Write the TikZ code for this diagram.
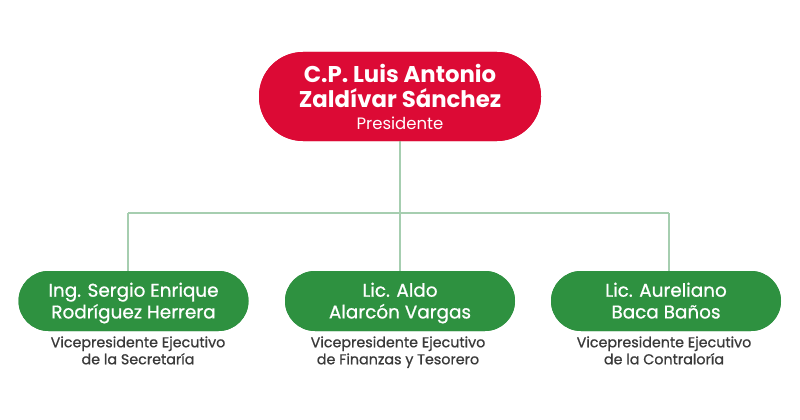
\documentclass[tikz,border=0pt]{standalone}
\usepackage{fontspec}
\setmainfont{Poppins}
\newfontfamily\medfont[FakeBold=0.8]{Poppins}
\definecolor{topred}{HTML}{DC0A35}
\definecolor{vpgreen}{HTML}{2E9140}
\definecolor{linkgreen}{HTML}{A6CEB0}
\definecolor{captiongray}{HTML}{3A3A3A}
\begin{document}
\begin{tikzpicture}[x=1pt,y=-1pt,
  topbox/.style={fill=topred,draw=none,rounded corners=44pt,minimum width=282pt,minimum height=89pt,inner sep=0pt},
  vpbox/.style={fill=vpgreen,draw=none,rounded corners=30pt,minimum width=230pt,minimum height=60pt,inner sep=0pt},
  link/.style={draw=linkgreen,line width=2.6pt},
  topname/.style={anchor=base,text=white,font=\fontsize{22.8}{26}\selectfont\bfseries,align=center,inner sep=0pt},
  toprole/.style={anchor=base,text=white,font=\fontsize{16.5}{20}\selectfont,inner sep=0pt},
  vpname/.style={anchor=base,text=white,font=\fontsize{18.4}{21.7}\medfont,align=center,inner sep=0pt},
  vprole/.style={anchor=base,text=captiongray,font=\fontsize{14.3}{17}\medfont,align=center,inner sep=0pt}
]
\useasboundingbox (0,0) rectangle (800,420);
\fill[white] (0,0) rectangle (800,420);
% connectors
\coordinate (busL) at (128,213);
\coordinate (busM) at (400,213);
\coordinate (busR) at (669,213);
\node[topbox] (pres) at (400,96.5) {};
\node[vpbox] (vp1) at (133.5,301) {};
\node[vpbox] (vp2) at (400,301) {};
\node[vpbox] (vp3) at (666,301) {};
\draw[link] (pres.south) -- (busM);
\draw[link] (busL) -- (busR);
\draw[link] (busL) -- (busL |- vp1.north);
\draw[link] (busM) -- (vp2.north);
\draw[link] (busR) -- (busR |- vp3.north);
% redraw boxes over connector ends
\node[topbox] at (400,96.5) {};
\node[vpbox] at (133.5,301) {};
\node[vpbox] at (400,301) {};
\node[vpbox] at (666,301) {};
% texts
\node[topname] (presn1) at (400,82.7) {C.P. Luis Antonio};
\node[topname] (presn2) at (400,107.3) {Zaldívar Sánchez};
\node[toprole] (presr) at (400,129) {Presidente};
\node[vpname] (vp1n1) at (133.5,296.7) {Ing. Sergio Enrique};
\node[vpname] (vp1n2) at (133.5,318.4) {Rodríguez Herrera};
\node[vpname] (vp2n1) at (400,296.7) {Lic. Aldo};
\node[vpname] (vp2n2) at (400,318.4) {Alarcón Vargas};
\node[vpname] (vp3n1) at (666,296.7) {Lic. Aureliano};
\node[vpname] (vp3n2) at (666,318.4) {Baca Baños};
\node[vprole] (vp1r1) at (138,347.3) {Vicepresidente Ejecutivo};
\node[vprole] (vp1r2) at (138,364.3) {de la Secretaría};
\node[vprole] (vp2r1) at (398,347.3) {Vicepresidente Ejecutivo};
\node[vprole] (vp2r2) at (398,364.3) {de Finanzas y Tesorero};
\node[vprole] (vp3r1) at (664,347.3) {Vicepresidente Ejecutivo};
\node[vprole] (vp3r2) at (664,364.3) {de la Contraloría};
\end{tikzpicture}
\end{document}
